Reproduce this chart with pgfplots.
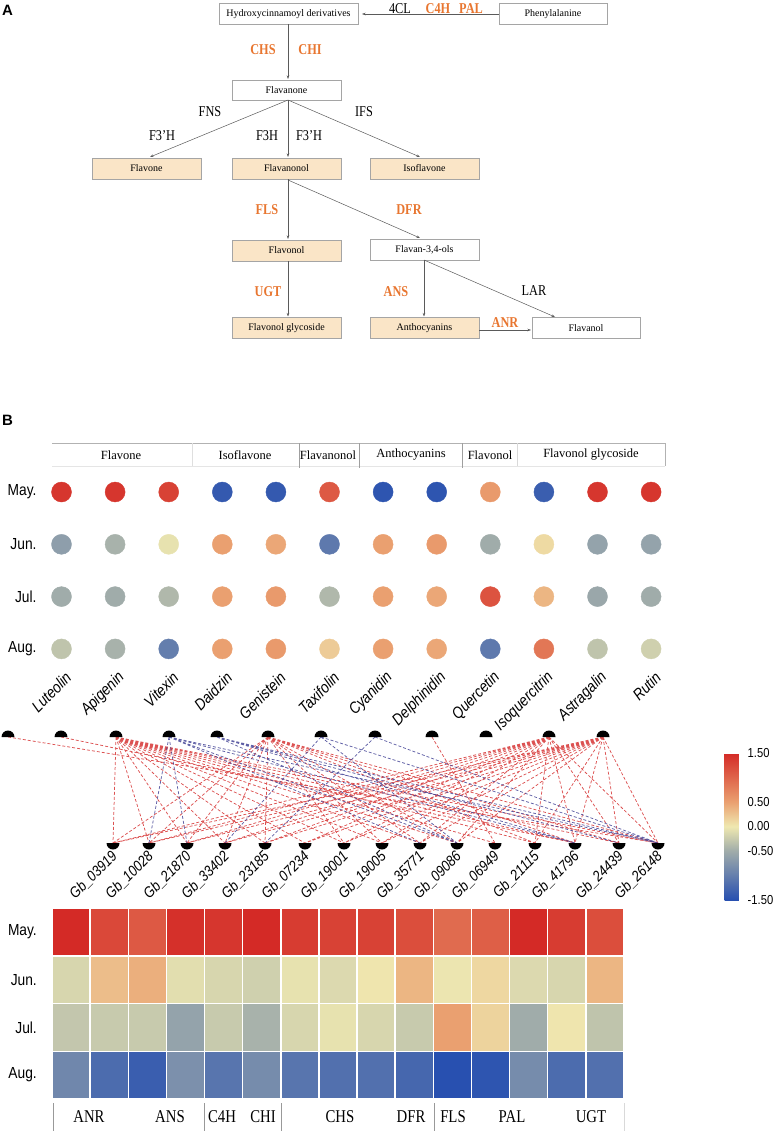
\documentclass[border=0pt]{standalone}
\usepackage{fontspec}
\setmainfont{Liberation Serif}
\newfontfamily\condserif{Liberation Serif}[FakeStretch=0.82]
\newfontfamily\sansf{Liberation Sans}[FakeStretch=0.86]
\newfontfamily\sansb{Liberation Sans}
\usepackage{pgfplots}
\usepackage{pgfplotstable}
\pgfplotsset{compat=1.18}
\usetikzlibrary{arrows.meta}

\definecolor{beige}{RGB}{250,229,199}
\definecolor{enz}{RGB}{232,118,48}
\definecolor{boxline}{RGB}{165,165,165}
\definecolor{pathline}{RGB}{90,90,90}
\definecolor{edgered}{RGB}{214,52,52}
\definecolor{edgeblue}{RGB}{68,68,150}

% half-circle node marks of the network
\pgfdeclareplotmark{domeup}{\pgfpathmoveto{\pgfqpoint{\pgfplotmarksize}{0pt}}\pgfpatharc{0}{180}{\pgfplotmarksize}\pgfpathclose\pgfusepathqfill}
\pgfdeclareplotmark{domedown}{\pgfpathmoveto{\pgfqpoint{-\pgfplotmarksize}{0pt}}\pgfpatharc{180}{360}{\pgfplotmarksize}\pgfpathclose\pgfusepathqfill}

\pgfplotsset{
  colormap={rdyb}{[0.5cm] rgb255(0cm)=(40,80,176) rgb255(1cm)=(160,172,170) rgb255(1.5cm)=(239,232,176) rgb255(2cm)=(234,160,112) rgb255(3cm)=(212,42,38)},
  bare/.style={scale only axis, axis line style={draw=none}, tick style={draw=none},
    major tick length=0pt, clip=false, point meta min=-1.5, point meta max=1.5},
}

\begin{document}
\begin{tikzpicture}
\useasboundingbox (0,0) rectangle (772pt,-1132pt);

%% ---------------- panel A: pathway ----------------
\begin{scope}[x=1pt,y=-1pt]
\tikzset{
  box/.style={draw=boxline, line width=0.6pt, minimum height=21pt, minimum width=109pt, inner sep=0pt, font=\fontsize{10}{10}\selectfont},
  ar/.style={pathline, line width=0.5pt, -{Stealth[length=3.5pt,width=2.5pt]}},
  eo/.style={inner sep=0pt, text=enz, font=\condserif\bfseries\fontsize{15}{15}\selectfont},
  ek/.style={inner sep=0pt, font=\condserif\fontsize{15}{15}\selectfont},
}
\node[font=\sansb\bfseries\fontsize{15}{15}\selectfont, anchor=west, inner sep=0pt] at (2,10) {A};
\node[box, minimum width=139pt] (hyd) at (288.5,14) {Hydroxycinnamoyl derivatives};
\node[box, minimum width=108pt] at (553,14) {Phenylalanine};
\node[box, minimum height=20pt] at (286.5,90) {Flavanone};
\node[box, fill=beige] at (146.5,168.5) {Flavone};
\node[box, fill=beige] at (286.5,168.5) {Flavanonol};
\node[box, fill=beige] at (424.5,168.5) {Isoflavone};
\node[box, fill=beige] at (286.5,250.5) {Flavonol};
\node[box] at (424.5,249.5) {Flavan-3,4-ols};
\node[box, fill=beige] at (286.5,328) {Flavonol glycoside};
\node[box, fill=beige] at (424.5,328) {Anthocyanins};
\node[box, minimum width=108pt] at (586,328) {Flavanol};

\draw[ar] (499,14) -- (362,14);
\draw[ar] (288,24.5) -- (288,79);
\draw[ar] (288,100) -- (150,157);
\draw[ar] (288,100) -- (288,157);
\draw[ar] (288,100) -- (420,157);
\draw[ar] (288,179) -- (288,239);
\draw[ar] (288,180) -- (420,238);
\draw[ar] (288,261) -- (288,316.5);
\draw[ar] (424,260) -- (424,316.5);
\draw[ar] (424,260) -- (555,317);
\draw[ar] (479,330) -- (531,330);

\node[ek] at (400,9) {4CL};
\node[eo] at (438,9) {C4H};
\node[eo] at (471,9) {PAL};
\node[eo] at (263,50) {CHS};
\node[eo] at (310,50) {CHI};
\node[ek] at (210,112) {FNS};
\node[ek] at (364,112) {IFS};
\node[ek] at (162,136) {F3’H};
\node[ek] at (267,136) {F3H};
\node[ek] at (309,136) {F3’H};
\node[eo] at (267,210) {FLS};
\node[eo] at (409,210) {DFR};
\node[eo] at (268,292) {UGT};
\node[eo] at (396,292) {ANS};
\node[ek] at (534,291) {LAR};
\node[eo] at (505,323) {ANR};

%% ---------------- panel B: frames and group names ----------------
\node[font=\sansb\bfseries\fontsize{15}{15}\selectfont, anchor=west, inner sep=0pt] at (2,420) {B};
\draw[gray!20, line width=1pt] (52,466.5) -- (665,466.5);
\draw[gray!60, line width=0.7pt] (52,443) -- (665,443) -- (665,466);
\draw[gray!25, line width=0.6pt] (192,443) -- (192,466);
\draw[gray!75, line width=0.9pt] (299,443) -- (299,468);
\draw[gray!75, line width=0.9pt] (359,443) -- (359,468);
\draw[gray!75, line width=0.9pt] (462,443) -- (462,468);
\draw[gray!30, line width=0.6pt] (517,443) -- (517,466);
\begin{scope}[every node/.style={inner sep=0pt, font=\fontsize{12.5}{12.5}\selectfont}]
\node at (121,455) {Flavone};
\node at (245,455) {Isoflavone};
\node at (328,455) {Flavanonol};
\node at (411,455) {Anthocyanins};
\node at (490,455) {Flavonol};
\node at (591,455) {Flavonol glycoside};
\end{scope}

\draw[gray!80, line width=0.9pt] (53,1103) -- (53,1131);
\draw[gray!80, line width=0.9pt] (204,1103) -- (204,1131);
\draw[gray!80, line width=0.9pt] (281,1103) -- (281,1131);
\draw[gray!80, line width=0.9pt] (434,1103) -- (434,1131);
\draw[gray!30, line width=0.7pt] (624,1103) -- (624,1131);
\begin{scope}[every node/.style={inner sep=0pt, font=\condserif\fontsize{18}{18}\selectfont}]
\node at (89,1117) {ANR};
\node at (170,1117) {ANS};
\node at (222,1117) {C4H};
\node at (263,1117) {CHI};
\node at (340,1117) {CHS};
\node at (411,1117) {DFR};
\node at (453,1117) {FLS};
\node at (512,1117) {PAL};
\node at (591,1117) {UGT};
\end{scope}
\end{scope}

%% ---------------- metabolite dot matrix ----------------
\begin{axis}[bare, at={(356.3pt,-570.45pt)}, anchor=center,
  width=643.2pt, height=209.2pt,
  xmin=0.5, xmax=12.5, ymin=0.5, ymax=4.5, y dir=reverse,
  colormap name=rdyb,
  xtick={1,...,12},
  xticklabels={Luteolin,Apigenin,Vitexin,Daidzin,Genistein,Taxifolin,Cyanidin,Delphinidin,Quercetin,Isoquercitrin,Astragalin,Rutin},
  ytick={1,2,3,4}, yticklabels={May.,Jun.,Jul.,Aug.},
  xticklabel style={inner sep=0pt, font=\sansf\itshape\fontsize{16}{16}\selectfont, xshift=7pt, yshift=0pt, rotate=45, anchor=east},
  yticklabel style={inner sep=0pt, font=\sansf\fontsize{16}{16}\selectfont, anchor=east, xshift=2pt},
]
\addplot[scatter, only marks, mark=*, mark size=10pt, point meta=explicit,
  scatter/use mapped color={draw=mapped color, fill=mapped color}]
  table[x=x, y=y, meta=v] {
x y v
1 1 1.4
2 1 1.4
3 1 1.3
4 1 -1.4
5 1 -1.4
6 1 1.1
7 1 -1.45
8 1 -1.45
9 1 0.55
10 1 -1.35
11 1 1.4
12 1 1.4
1 2 -0.65
2 2 -0.45
3 2 -0.05
4 2 0.5
5 2 0.45
6 2 -1.05
7 2 0.5
8 2 0.55
9 2 -0.5
10 2 0.1
11 2 -0.6
12 2 -0.6
1 3 -0.5
2 3 -0.5
3 3 -0.4
4 3 0.5
5 3 0.55
6 3 -0.4
7 3 0.5
8 3 0.45
9 3 1.15
10 3 0.35
11 3 -0.55
12 3 -0.5
1 4 -0.3
2 4 -0.45
3 4 -1.0
4 4 0.5
5 4 0.55
6 4 0.2
7 4 0.5
8 4 0.45
9 4 -1.05
10 4 0.85
11 4 -0.3
12 4 -0.2
};
\end{axis}

%% ---------------- correlation network ----------------
\begin{axis}[bare, at={(386pt,-790pt)}, anchor=center,
  width=772pt, height=106pt,
  xmin=0, xmax=772, ymin=0, ymax=1, ytick=\empty,
  unbounded coords=jump,
  xtick={113,149,187,225,265,305,344,382,420,457,495,535,575,619,658},
  xticklabels={Gb\_03919,Gb\_10028,Gb\_21870,Gb\_33402,Gb\_23185,Gb\_07234,Gb\_19001,Gb\_19005,Gb\_35771,Gb\_09086,Gb\_06949,Gb\_21115,Gb\_41796,Gb\_24439,Gb\_26148},
  xticklabel style={inner sep=0pt, font=\sansf\itshape\fontsize{15}{15}\selectfont, xshift=2pt, yshift=-11pt, rotate=45, anchor=east},
]
% positive correlations
\addplot[edgered, densely dashed, line width=0.75pt, opacity=0.85] coordinates {
(8,1) (658,0) (nan,nan)
(61,1) (575,0) (nan,nan)
(116,1) (113,0) (nan,nan) (116,1) (149,0) (nan,nan) (116,1) (187,0) (nan,nan)
(116,1) (225,0) (nan,nan) (116,1) (265,0) (nan,nan) (116,1) (305,0) (nan,nan)
(116,1) (344,0) (nan,nan) (116,1) (382,0) (nan,nan) (116,1) (420,0) (nan,nan)
(116,1) (457,0) (nan,nan) (116,1) (495,0) (nan,nan) (116,1) (535,0) (nan,nan)
(116,1) (575,0) (nan,nan) (116,1) (619,0) (nan,nan) (116,1) (658,0) (nan,nan)
(268,1) (113,0) (nan,nan) (268,1) (149,0) (nan,nan) (268,1) (187,0) (nan,nan)
(268,1) (225,0) (nan,nan) (268,1) (265,0) (nan,nan) (268,1) (344,0) (nan,nan)
(268,1) (382,0) (nan,nan) (268,1) (420,0) (nan,nan) (268,1) (457,0) (nan,nan)
(268,1) (535,0) (nan,nan) (268,1) (575,0) (nan,nan) (268,1) (619,0) (nan,nan)
(268,1) (658,0) (nan,nan)
(432,1) (495,0) (nan,nan)
(549,1) (113,0) (nan,nan) (549,1) (149,0) (nan,nan) (549,1) (187,0) (nan,nan)
(549,1) (225,0) (nan,nan) (549,1) (265,0) (nan,nan) (549,1) (305,0) (nan,nan)
(549,1) (344,0) (nan,nan) (549,1) (382,0) (nan,nan) (549,1) (420,0) (nan,nan)
(549,1) (457,0) (nan,nan) (549,1) (535,0) (nan,nan) (549,1) (575,0) (nan,nan)
(549,1) (619,0) (nan,nan) (549,1) (658,0) (nan,nan)
(603,1) (113,0) (nan,nan) (603,1) (149,0) (nan,nan) (603,1) (187,0) (nan,nan)
(603,1) (225,0) (nan,nan) (603,1) (265,0) (nan,nan) (603,1) (305,0) (nan,nan)
(603,1) (344,0) (nan,nan) (603,1) (382,0) (nan,nan) (603,1) (420,0) (nan,nan)
(603,1) (457,0) (nan,nan) (603,1) (535,0) (nan,nan) (603,1) (575,0) (nan,nan)
(603,1) (619,0) (nan,nan) (603,1) (658,0)
};
% negative correlations
\addplot[edgeblue, densely dashed, line width=0.75pt, opacity=0.85] coordinates {
(169,1) (149,0) (nan,nan) (169,1) (187,0) (nan,nan) (169,1) (420,0) (nan,nan)
(169,1) (457,0) (nan,nan) (169,1) (575,0) (nan,nan) (169,1) (658,0) (nan,nan)
(217,1) (457,0) (nan,nan) (217,1) (575,0) (nan,nan) (217,1) (619,0) (nan,nan)
(217,1) (658,0) (nan,nan)
(321,1) (225,0) (nan,nan) (321,1) (457,0) (nan,nan) (321,1) (658,0) (nan,nan)
(375,1) (265,0) (nan,nan) (375,1) (658,0)
};
\addplot[only marks, mark=domeup, mark size=6.5pt, black] coordinates {
(8,1) (61,1) (116,1) (169,1) (217,1) (268,1) (321,1) (375,1) (432,1) (486,1) (549,1) (603,1)};
\addplot[only marks, mark=domedown, mark size=6.5pt, black] coordinates {
(113,0) (149,0) (187,0) (225,0) (265,0) (305,0) (344,0) (382,0) (420,0) (457,0) (495,0) (535,0) (575,0) (619,0) (658,0)};
\end{axis}

%% ---------------- gene expression heatmap ----------------
\begin{axis}[bare, at={(338pt,-1003.5pt)}, anchor=center,
  width=572pt, height=191pt,
  xmin=0.5, xmax=15.5, ymin=0.5, ymax=4.5, y dir=reverse,
  colormap name=rdyb,
  xtick=\empty,
  ytick={1,2,3,4}, yticklabels={May.,Jun.,Jul.,Aug.},
  yticklabel style={inner sep=0pt, font=\sansf\fontsize{16}{16}\selectfont, anchor=east, xshift=-15pt},
]
\addplot[scatter, only marks, mark=square*, mark size=23.875pt, point meta=explicit,
  mark options={xscale=0.7985, line width=1.5pt},
  scatter/use mapped color={draw=white, fill=mapped color}]
  table[x=x, y=y, meta=v] {
x y v
1 1 1.5
2 1 1.25
3 1 1.1
4 1 1.45
5 1 1.4
6 1 1.5
7 1 1.35
8 1 1.3
9 1 1.3
10 1 1.2
11 1 0.95
12 1 1.05
13 1 1.5
14 1 1.35
15 1 1.2
1 2 -0.15
2 2 0.3
3 2 0.4
4 2 -0.08
5 2 -0.15
6 2 -0.2
7 2 -0.05
8 2 -0.12
9 2 0.02
10 2 0.35
11 2 -0.02
12 2 0.12
13 2 -0.12
14 2 -0.15
15 2 0.35
1 3 -0.28
2 3 -0.25
3 3 -0.25
4 3 -0.6
5 3 -0.25
6 3 -0.45
7 3 -0.15
8 3 -0.05
9 3 -0.15
10 3 -0.25
11 3 0.5
12 3 0.15
13 3 -0.5
14 3 0.02
15 3 -0.3
1 4 -0.9
2 4 -1.2
3 4 -1.35
4 4 -0.8
5 4 -1.1
6 4 -0.85
7 4 -1.1
8 4 -1.15
9 4 -1.15
10 4 -1.25
11 4 -1.5
12 4 -1.45
13 4 -0.85
14 4 -1.2
15 4 -1.15
};
\end{axis}

%% ---------------- colour scale ----------------
\begin{axis}[hide axis, scale only axis, width=1pt, height=1pt,
  at={(716pt,-900pt)}, anchor=center,
  colormap name=rdyb, point meta min=-1.5, point meta max=1.5,
  colorbar,
  colorbar style={at={(parent axis.center)}, anchor=south west, xshift=0pt, yshift=0pt,
    width=22pt, height=147pt, scale only axis,
    ytick={-1.5,-0.5,0,0.5,1.5},
    axis line style={draw=none}, major tick length=0pt,
    yticklabel style={inner sep=1pt, font=\sansf\fontsize{13}{13}\selectfont,
      /pgf/number format/.cd, fixed, fixed zerofill, precision=2, assume math mode=true}},
]
\addplot[draw=none] coordinates {(0,0)};
\end{axis}
\end{tikzpicture}
\end{document}
